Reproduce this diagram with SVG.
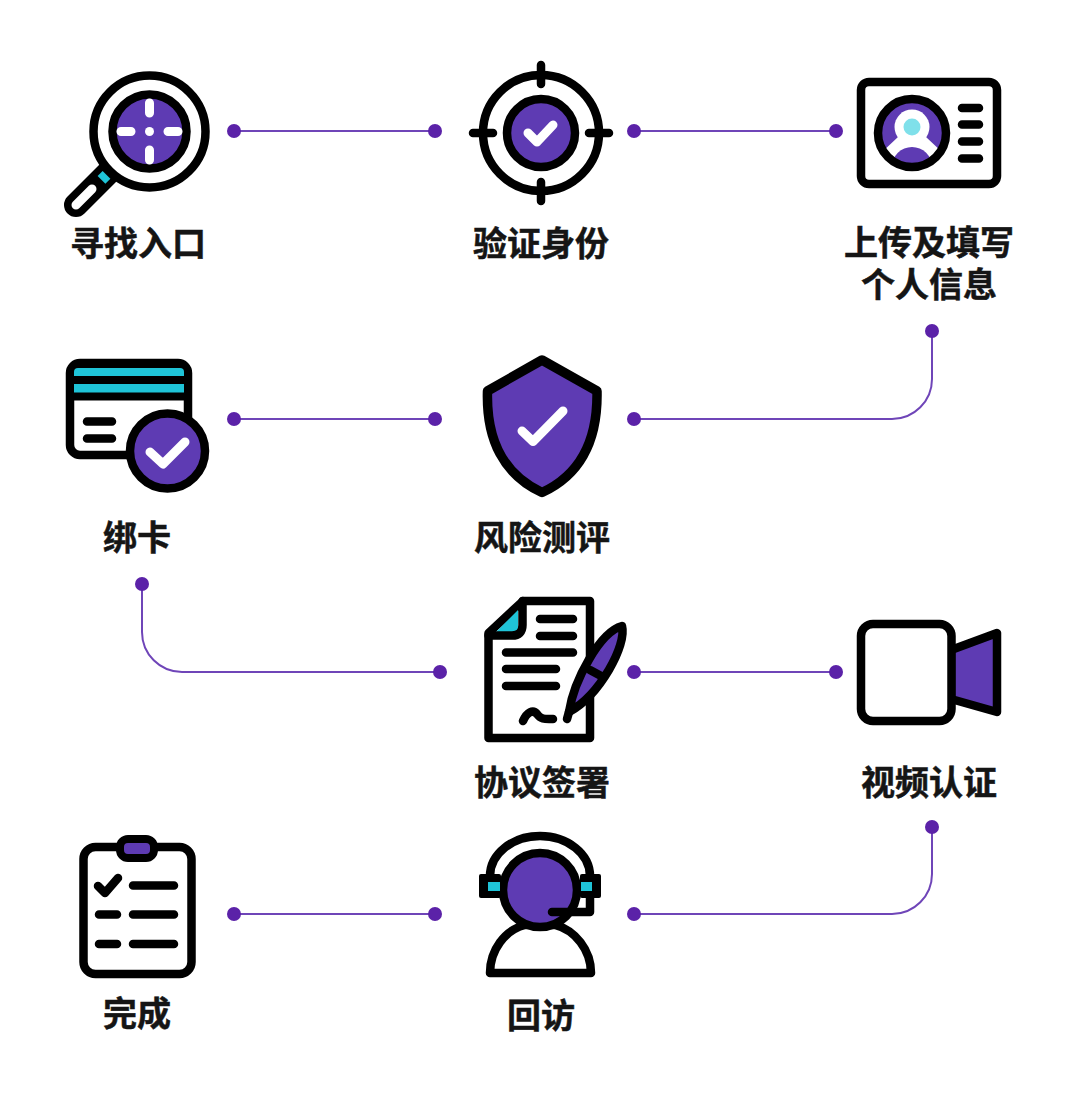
<svg xmlns="http://www.w3.org/2000/svg" width="1080" height="1094" viewBox="0 0 1080 1094">
<style>
.k{fill:none;stroke:#000;stroke-width:8.500;stroke-linecap:round;stroke-linejoin:round}
.w{fill:#fff;stroke:#000;stroke-width:8.500;stroke-linecap:round;stroke-linejoin:round}
.p{fill:#5e3bb3;stroke:#000;stroke-width:8.500;stroke-linecap:round;stroke-linejoin:round}
.c{fill:#1fc4d8}
.t{fill:none;stroke:#fff;stroke-width:9;stroke-linecap:round;stroke-linejoin:round}
.l{font-family:"Noto Sans CJK SC","Noto Sans",sans-serif;font-size:34px;font-weight:700;fill:#151515;stroke:#151515;stroke-width:.5;text-anchor:middle}
.cn{fill:none;stroke:#6f45b8;stroke-width:2}
.d{fill:#5b22a8}
</style>
<rect width="1080" height="1094" fill="#fff"/>
<g id="connectors">
<path class="cn" d="M234 131H435M634 131H836M234 419H435M634 419H892A40 40 0 0 0 932 379V331M142 584V632A40 40 0 0 0 182 672H440M634 672H836M234 914H435M634 914H892A40 40 0 0 0 932 874V827"/>
<circle class="d" cx="234" cy="131" r="7"/><circle class="d" cx="435" cy="131" r="7"/>
<circle class="d" cx="634" cy="131" r="7"/><circle class="d" cx="836" cy="131" r="7"/>
<circle class="d" cx="234" cy="419" r="7"/><circle class="d" cx="435" cy="419" r="7"/>
<circle class="d" cx="634" cy="419" r="7"/><circle class="d" cx="932" cy="331" r="7"/>
<circle class="d" cx="142" cy="584" r="7"/><circle class="d" cx="440" cy="672" r="7"/>
<circle class="d" cx="634" cy="672" r="7"/><circle class="d" cx="836" cy="672" r="7"/>
<circle class="d" cx="234" cy="914" r="7"/><circle class="d" cx="435" cy="914" r="7"/>
<circle class="d" cx="634" cy="914" r="7"/><circle class="d" cx="932" cy="827" r="7"/>
</g>
<g id="node-find">
<path d="M76 205L109 172" stroke="#000" stroke-width="24" stroke-linecap="round"/>
<path d="M76 205L92 189" stroke="#fff" stroke-width="9" stroke-linecap="round"/>
<path d="M101.500 179.800L106.500 174.800" stroke="#1fc4d8" stroke-width="11"/>
<circle class="w" cx="149.500" cy="131.500" r="56"/>
<circle class="p" cx="149.500" cy="131.500" r="37"/>
<path class="t" d="M149.500 103V113M149.500 150V160M121 131.500H131M168 131.500H178"/>
<circle cx="149.500" cy="131.500" r="4.500" fill="#fff"/>
<text class="l" x="138" y="256">寻找入口</text>
</g>
<g id="node-verify">
<circle class="k" cx="541" cy="133" r="58"/>
<path class="k" d="M541 65V84M541 182V201M473 133H493M589 133H609"/>
<circle class="p" cx="541" cy="133" r="34"/>
<path class="t" d="M528 133L537 142L553 125"/>
<text class="l" x="541" y="256">验证身份</text>
</g>
<g id="node-upload">
<rect class="w" x="861" y="82" width="136" height="102" rx="8"/>
<clipPath id="idc"><circle cx="912" cy="133" r="31"/></clipPath>
<circle cx="912" cy="133" r="31" fill="#5e3bb3"/>
<g clip-path="url(#idc)">
<path d="M880 154L898 137H926L944 154V175H880Z" fill="#fff"/>
<ellipse cx="912" cy="167" rx="20" ry="20" fill="#5e3bb3"/>
<circle cx="912" cy="127" r="17.500" fill="#fff"/>
<circle cx="912" cy="127" r="8.500" fill="#7fe0ea"/>
</g>
<circle class="k" cx="912" cy="133" r="34"/>
<path class="k" d="M962 108H979M962 124.500H979M962 141.500H979M962 158.500H979"/>
<text class="l" x="929" y="255">上传及填写</text>
<text class="l" x="929" y="297">个人信息</text>
</g>
<g id="node-card">
<rect class="w" x="70" y="363" width="118" height="92" rx="10"/>
<path d="M70 373a10 10 0 0 1 10-10H178a10 10 0 0 1 10 10V400.500H70Z" fill="#000"/>
<path class="c" d="M74 376V372a4 4 0 0 1 4-4H180a4 4 0 0 1 4 4V376Z"/>
<rect class="c" x="74" y="384" width="110" height="8.500"/>
<path class="k" d="M87 421.500H112M87 438.500H112"/>
<circle class="p" cx="167.500" cy="451" r="37.500"/>
<path class="t" d="M150 452L163 464L185 442"/>
<text class="l" x="137" y="550">绑卡</text>
</g>
<g id="node-risk">
<path class="p" style="stroke-width:9.500" d="M542 360L597 391C598 440 580 475 542 492.500C504 475 486 440 487.500 391Z"/>
<path class="t" d="M522 431L533 441.500L563 411"/>
<text class="l" x="542" y="550">风险测评</text>
</g>
<g id="node-sign">
<path class="w" d="M523 601H590V738H488.500V633Z"/>
<path class="c" d="M496 632L518 610V632Z"/>
<path class="k" d="M522.500 601V625Q522.500 635.500 512 635.500H488.500"/>
<path class="k" d="M540 619H573M540 636H573M506 652.500H573M506 669H556M506 686H556M523 721C527 712 533 709 537 714C541 720 546 719 553 719"/>
<path class="p" d="M569 712C574 680 600 632 622 626C627 645 600 695 569 712Z"/>
<path class="k" d="M590 670L603 677M569 712L567 719"/>
<text class="l" x="542" y="795">协议签署</text>
</g>
<g id="node-video">
<path class="p" d="M951 650L997 633V712L951 699Z"/>
<rect class="w" x="861" y="624" width="90.500" height="97" rx="12"/>
<text class="l" x="929" y="795">视频认证</text>
</g>
<g id="node-phone">
<path class="w" d="M490 973C490 950 505 930 525 925H555C575 930 591 950 591 973Z"/>
<path class="k" d="M490 876A50 40 0 0 1 590 876"/>
<path d="M566 896H586V912H566Z" fill="#fff"/>
<circle class="p" cx="540" cy="890" r="37"/>
<rect x="479" y="874" width="22" height="24" fill="#000" rx="2"/>
<rect x="580" y="874" width="21" height="24" fill="#000" rx="2"/>
<rect class="c" x="488" y="882" width="12" height="9"/>
<rect class="c" x="581" y="882" width="11" height="9"/>
<path class="k" d="M552 912H590V896"/>
<text class="l" x="541" y="1028">回访</text>
</g>
<g id="node-done">
<rect class="w" x="83.500" y="847" width="108" height="127" rx="12"/>
<rect x="120" y="839" width="34" height="19" rx="8" fill="#5e3bb3" stroke="#000" stroke-width="8"/>
<path class="k" d="M98 886L105 893L118 878M133 885.500H174M133 914.500H174M133 944H174M99 914.500H117M99 944H117"/>
<text class="l" x="137" y="1026">完成</text>
</g>
</svg>
